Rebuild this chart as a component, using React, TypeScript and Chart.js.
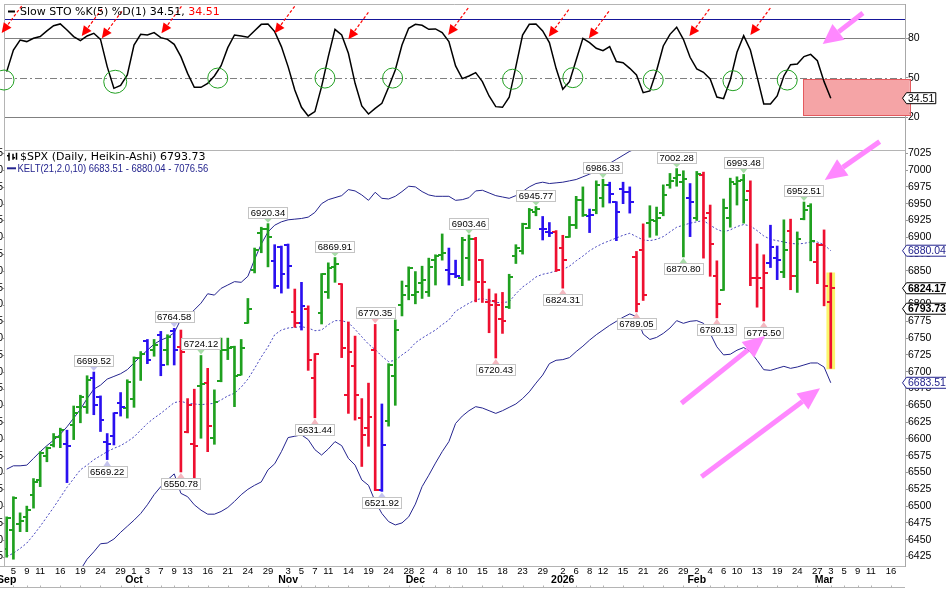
import React, { useEffect, useRef } from 'react';
import { Chart, registerables } from 'chart.js';

Chart.register(...registerables);

// ---------------- calendar ----------------
const HOLIDAYS = ['2025-11-27', '2025-12-25', '2026-01-01', '2026-01-19', '2026-02-16'];
const FIRST_SESSION = '2025-09-04';
const LAST_AXIS_SESSION = '2026-03-20';

// ---------------- $SPX daily Heikin-Ashi bars (2025-09-04 .. 2026-03-03) ----------------
const haOpen = [
  6436, 6464, 6474, 6484, 6517, 6539, 6574, 6591, 6603, 6593,
  6621, 6647, 6647, 6691, 6663, 6596, 6604, 6653, 6646, 6659,
  6720, 6745, 6732, 6755, 6732, 6760, 6737, 6611, 6592, 6678,
  6683, 6602, 6686, 6732, 6737, 6695, 6773, 6852, 6906, 6912,
  6865, 6886, 6889, 6789, 6772, 6793, 6691, 6787, 6819, 6856,
  6830, 6665, 6708, 6631, 6616, 6733, 6524, 6626, 6693, 6799,
  6828, 6814, 6832, 6819, 6866, 6874, 6852, 6846, 6839, 6869,
  6898, 6866, 6804, 6805, 6779, 6796, 6872, 6879, 6914, 6938,
  6913, 6908, 6908, 6884, 6901, 6918, 6956, 6931, 6941, 6958,
  6978, 6952, 6972, 6968, 6871, 6881, 6921, 6924, 6936, 6978,
  6988, 6983, 6958, 6928, 6992, 6936, 6842, 6821, 6928, 6980,
  6985, 6969, 6839, 6824, 6862, 6869, 6849, 6910, 6842, 6927,
  6947, 6863, 6889, 6803,
];
const haHigh = [
  6484, 6514, 6490, 6500, 6541, 6581, 6588, 6608, 6616, 6613,
  6649, 6665, 6694, 6699.52, 6664, 6608, 6639, 6669, 6688, 6722,
  6730, 6748, 6748, 6760, 6755, 6764.58, 6762, 6660, 6674, 6724.12,
  6705, 6673, 6750, 6750, 6738, 6748, 6809, 6884, 6915, 6920.34,
  6889, 6887, 6890, 6823, 6833, 6798, 6727, 6846, 6862, 6869.91,
  6831, 6774, 6753, 6660, 6683, 6770.35, 6652, 6712, 6777, 6835,
  6856, 6849, 6857, 6869, 6874, 6905, 6884, 6866, 6900, 6903.46,
  6900, 6867, 6823, 6816, 6818, 6845, 6889, 6921, 6943, 6945.77,
  6931, 6922, 6910, 6903, 6931, 6961, 6975, 6942, 6984, 6986.33,
  6982, 6953, 6982, 6975, 6879, 6920, 6947, 6945, 6978, 6995,
  7002.28, 6999, 6980, 6998, 6997, 6948, 6865, 6957, 6988, 6990,
  6993.48, 6984, 6890, 6874, 6918, 6887, 6926, 6927, 6908, 6952.51,
  6950, 6891, 6911, 6847,
];
const haLow = [
  6424, 6421, 6462, 6462, 6497, 6529, 6566, 6588, 6587, 6535,
  6599, 6624, 6638, 6636, 6611, 6569.22, 6591, 6634, 6631, 6647,
  6687, 6712, 6723, 6694, 6710, 6710, 6550.78, 6609, 6541, 6601,
  6581, 6592, 6685, 6718, 6648, 6695, 6772, 6847, 6877, 6856,
  6824, 6817, 6824, 6766, 6762, 6702, 6631.44, 6771, 6809, 6833,
  6721, 6638, 6628, 6559, 6589, 6523, 6521.92, 6619, 6650, 6783,
  6807, 6801, 6809, 6812, 6829, 6866, 6829, 6840, 6828, 6836,
  6804, 6803, 6758, 6720.43, 6757, 6794, 6861, 6875, 6913, 6932,
  6896, 6901, 6849, 6824.31, 6900, 6913, 6931, 6907, 6935, 6945,
  6951, 6895, 6950, 6936, 6789.05, 6806, 6900, 6903, 6932, 6973,
  6976, 6870.8, 6901, 6925, 6869, 6842, 6780.13, 6821, 6915, 6948,
  6921, 6828, 6796, 6775.5, 6855, 6837, 6840, 6822, 6818, 6926,
  6865, 6831, 6798, 6705,
];
const haClose = [
  6483, 6512, 6478, 6494, 6536, 6579, 6586, 6603, 6613, 6590,
  6638, 6662, 6688, 6650, 6628, 6592, 6638, 6648, 6685, 6720,
  6727, 6717, 6740, 6710, 6752, 6732, 6730, 6650, 6590, 6682,
  6619, 6655, 6732, 6735, 6694, 6735, 6793, 6881, 6912, 6900,
  6827, 6846, 6857, 6772, 6798, 6717, 6726, 6845, 6854, 6860,
  6736, 6730, 6665, 6606, 6633, 6524, 6591, 6710, 6762, 6814,
  6854, 6818, 6836, 6856, 6872, 6876, 6845, 6843, 6896, 6898,
  6833, 6833, 6800, 6800, 6775, 6841, 6884, 6920, 6940, 6942,
  6912, 6907, 6851, 6866, 6918, 6956, 6933, 6933, 6978, 6978,
  6965, 6938, 6968, 6953, 6801, 6814, 6925, 6928, 6963, 6984,
  6992, 6987, 6952, 6994, 6928, 6890, 6801, 6943, 6982, 6984,
  6955, 6839, 6840, 6847, 6886, 6866, 6881, 6842, 6898, 6941,
  6895, 6889, 6828, 6824.17,
];
// g = green, r = red, b = blue
const haColor = (
  'gggggggggb' + 'gggbbbbbgg' + 'gbgbgbrrrg' + 'rggggggggg' + 'bbbrbrrggg' +
  'rrrrrrbggg' + 'ggggggbbgg' + 'rrrrrggggg' + 'bbrrgggbgg' + 'bbbbrrgggg' +
  'ggbgrrrggg' + 'grrrbbgrgg' + 'grrr'
).split('');
const spxClose = 6793.73;

// ---------------- Keltner channel (21, 2.0, 10) ----------------
const keltUpper = [
  6555, 6560, 6560, 6561, 6571, 6581, 6590, 6598, 6607, 6618,
  6631, 6644, 6660, 6674, 6680, 6689, 6693, 6697, 6703, 6713,
  6723, 6732, 6741, 6747, 6751, 6758, 6778, 6782, 6792, 6802,
  6816, 6814, 6824, 6829, 6834, 6833, 6842, 6867, 6890, 6908,
  6918, 6923, 6926, 6927, 6928, 6930, 6937, 6950, 6956, 6959,
  6962, 6971, 6969, 6963, 6955, 6967, 6958, 6957, 6961, 6968,
  6976, 6975, 6968, 6963, 6961, 6961, 6961, 6955, 6956, 6959,
  6969, 6970, 6966, 6962, 6960, 6958, 6962, 6968, 6975, 6980,
  6982, 6980, 6981, 6982, 6984, 6986, 6990, 6994, 6998, 7005,
  7010, 7016, 7022, 7028, 7032, 7038, 7042, 7043, 7045, 7052,
  7054, 7064, 7067, 7071, 7078, 7080, 7087, 7092, 7095, 7100,
  7101, 7104, 7103, 7101, 7092, 7085, 7079, 7077, 7074, 7072,
  7074, 7073, 7071, 7076.56,
];
const keltMid = [
  6425, 6430, 6437, 6445, 6457, 6470, 6484, 6498, 6513, 6528,
  6541, 6554, 6561, 6569, 6575, 6581, 6586, 6590, 6596, 6603,
  6613, 6623, 6631, 6638, 6646, 6654, 6656, 6653, 6652, 6651,
  6652, 6653, 6658, 6664, 6668, 6677, 6689, 6705, 6722, 6737,
  6755, 6762, 6765, 6766, 6767, 6765, 6761, 6762, 6770, 6776,
  6776, 6773, 6763, 6752, 6741, 6733, 6723, 6715, 6717, 6725,
  6732, 6743, 6750, 6756, 6762, 6770, 6777, 6790, 6796, 6802,
  6807, 6809, 6806, 6803, 6803, 6804, 6816, 6826, 6833, 6841,
  6845, 6847, 6850, 6852, 6857, 6865, 6872, 6880, 6886, 6891,
  6895, 6899, 6903, 6906, 6901, 6896, 6895, 6897, 6901, 6908,
  6915, 6918, 6921, 6923, 6925, 6918, 6912, 6908, 6911, 6916,
  6919, 6917, 6910, 6902, 6897, 6895, 6893, 6891, 6890, 6891,
  6893, 6893, 6889, 6880.04,
];
const keltLower = [
  6250, 6262, 6275, 6288, 6300, 6312, 6325, 6338, 6352, 6366,
  6382, 6405, 6421, 6432, 6444, 6445, 6451, 6461, 6470, 6479,
  6489, 6502, 6517, 6529, 6539, 6548, 6519, 6514, 6502, 6494,
  6488, 6488, 6492, 6498, 6507, 6517, 6525, 6531, 6536, 6554,
  6563, 6581, 6602, 6604, 6606, 6599, 6584, 6576, 6585, 6596,
  6590, 6571, 6561, 6539, 6531, 6507, 6489, 6477, 6472, 6475,
  6484, 6503, 6529, 6546, 6564, 6581, 6596, 6623, 6634, 6642,
  6648, 6646, 6642, 6638, 6642, 6647, 6652, 6660, 6670, 6683,
  6695, 6712, 6717, 6718, 6721, 6730, 6738, 6747, 6755, 6762,
  6769, 6775, 6781, 6786, 6782, 6756, 6748, 6751, 6757, 6765,
  6776, 6772, 6775, 6776, 6772, 6757, 6737, 6725, 6726, 6732,
  6736, 6730, 6717, 6703, 6702, 6705, 6708, 6705, 6707, 6710,
  6713, 6713, 6707, 6683.51,
];

// ---------------- Slow Stochastic %K(5) %D(1) ----------------
const stoK = [
  54.7, 71.1, 78.7, 77.5, 80, 81.3, 85.6, 89.6, 90.9, 86.3,
  81.3, 78.2, 81.8, 83.8, 79.2, 58.5, 42, 44.3, 52.2, 74.9,
  83, 82.5, 84.3, 80.5, 79.2, 75.4, 66.1, 53.4, 42.8, 42.8,
  45.8, 51.4, 59.2, 72.9, 82.5, 81.8, 80.8, 85.8, 90.6, 90.9,
  85.1, 73.7, 58.5, 40.8, 27.6, 21, 24.3, 43.3, 66.1, 86.8,
  82.5, 68.6, 45.8, 28.6, 22.5, 26.8, 30.6, 42.8, 55.9, 74.9,
  87.6, 90.6, 89.9, 86.8, 87.1, 84.3, 77.5, 59, 49.4, 51.4,
  53.9, 47.1, 36.2, 28.1, 27.6, 35.2, 58.5, 82.5, 90.6, 90.9,
  85.6, 76.7, 57.2, 41.3, 47.1, 63.5, 80, 76.7, 72.4, 70.6,
  73.7, 62.3, 61.5, 57.2, 52.2, 38.7, 40, 55.4, 74.2, 83,
  88.4, 79.2, 65.6, 56.7, 54.2, 49.1, 35.4, 34.2, 48.4, 69.4,
  82, 71.1, 50.9, 30.1, 30.1, 36.2, 51.4, 60, 60.5, 66.1,
  67.8, 63, 47.1, 34.51,
];

// ---------------- axes ----------------
const priceTicks = [6425, 6450, 6475, 6500, 6525, 6550, 6575, 6600, 6625, 6650, 6675, 6700, 6725,
  6750, 6775, 6800, 6825, 6850, 6875, 6900, 6925, 6950, 6975, 7000, 7025];
const stoTicks = [20, 50, 80];
const stoBlueLevel = 95;
const dayTickDates = [
  '2025-09-05', '2025-09-09', '2025-09-11', '2025-09-16', '2025-09-19', '2025-09-24', '2025-09-29',
  '2025-10-01', '2025-10-03', '2025-10-07', '2025-10-09', '2025-10-13', '2025-10-16', '2025-10-21', '2025-10-24', '2025-10-29',
  '2025-11-03', '2025-11-05', '2025-11-07', '2025-11-11', '2025-11-14', '2025-11-19', '2025-11-24', '2025-11-28',
  '2025-12-02', '2025-12-04', '2025-12-08', '2025-12-10', '2025-12-15', '2025-12-18', '2025-12-23', '2025-12-29',
  '2026-01-02', '2026-01-06', '2026-01-08', '2026-01-12', '2026-01-15', '2026-01-21', '2026-01-26', '2026-01-29',
  '2026-02-02', '2026-02-04', '2026-02-06', '2026-02-10', '2026-02-13', '2026-02-19', '2026-02-24', '2026-02-27',
  '2026-03-03', '2026-03-05', '2026-03-09', '2026-03-11', '2026-03-16',
];
const monthTickDates = ['2025-09-04', '2025-10-01', '2025-11-03', '2025-12-01', '2026-01-02', '2026-02-02', '2026-03-02'];
const monthTickText = ['Sep', 'Oct', 'Nov', 'Dec', '2026', 'Feb', 'Mar'];
const X_MIN = -0.254;
const X_MAX = 134.08;

// ---------------- annotations ----------------
const hlIndex = [13, 15, 25, 26, 29, 39, 46, 49, 55, 56, 69, 73, 79, 83, 89, 94, 100, 101, 106, 110, 113, 119];
const hlValue = [6699.52, 6569.22, 6764.58, 6550.78, 6724.12, 6920.34, 6631.44, 6869.91, 6770.35, 6521.92, 6903.46,
  6720.43, 6945.77, 6824.31, 6986.33, 6789.05, 7002.28, 6870.8, 6780.13, 6993.48, 6775.5, 6952.51];
const hlBelow = [false, true, false, true, false, false, true, false, false, true, false,
  true, false, true, false, true, false, true, true, false, true, false];

const crossIndex = [-0.4, 16.2, 31.5, 47.5, 57.6, 75.5, 84.5, 96.5, 108.4, 116.5];
const crossValue = [48.3, 47, 49.8, 49.8, 49.8, 48.9, 50.1, 48.3, 47.8, 48.3];
const sellIndex = [-0.75, 11.2, 14.2, 23.1, 40, 51, 65.9, 80.9, 86.9, 101.9, 111];
const sellValue = [84, 81.7, 80, 83.8, 83.8, 79.2, 82.5, 81.2, 80, 81.7, 82.5];
const zoneIndex = [118.9, 134.8];
const zoneValue = [48.9, 21.2];
const stoArrowFrom = [127.8, 99.2];
const stoArrowTo = [121.8, 75.6];
const priceArrowFrom = [[130.3, 7042.3], [100.7, 6653], [103.7, 6543.8]];
const priceArrowTo = [[122.1, 6985.3], [113.2, 6753], [121.4, 6675.3]];
const highlightIndex = 123;
const highlightRange = [6704, 6847];

// ---------------- styles ----------------
const GREEN = '#1FA01F';
const RED = '#EE1030';
const BLUE = '#2A10F0';
const BAR_COLORS: Record<string, string> = { g: GREEN, r: RED, b: BLUE };
const NOTCH_COLORS: Record<string, string> = { g: '#A8DCA8', r: '#F4B8C0', b: '#C4C4EE' };
const NAVY = '#24248E';
const FRAME = '#B4B4B4';
const PINK = '#FF88FF';
const AXIS_FONT = "'Liberation Sans', Arial, sans-serif";
const UI_FONT = "'DejaVu Sans', Verdana, sans-serif";

function tradingSessions(first: string, last: string, closed: string[]): string[] {
  const out: string[] = [];
  const d = new Date(first + 'T12:00:00Z');
  const end = new Date(last + 'T12:00:00Z');
  while (d.getTime() <= end.getTime()) {
    const wd = d.getUTCDay();
    const iso = d.toISOString().slice(0, 10);
    if (wd !== 0 && wd !== 6 && closed.indexOf(iso) < 0) out.push(iso);
    d.setUTCDate(d.getUTCDate() + 1);
  }
  return out;
}

function arrow(ctx: CanvasRenderingContext2D, x1: number, y1: number, x2: number, y2: number,
  color: string, width: number, headLen: number, headHalf: number, dash: number[]) {
  const ang = Math.atan2(y2 - y1, x2 - x1);
  const bx = x2 - headLen * Math.cos(ang);
  const by = y2 - headLen * Math.sin(ang);
  ctx.save();
  ctx.strokeStyle = color;
  ctx.lineWidth = width;
  ctx.setLineDash(dash);
  ctx.beginPath();
  ctx.moveTo(x1, y1);
  ctx.lineTo(bx, by);
  ctx.stroke();
  ctx.setLineDash([]);
  ctx.fillStyle = color;
  ctx.beginPath();
  ctx.moveTo(x2, y2);
  ctx.lineTo(bx + headHalf * Math.sin(ang), by - headHalf * Math.cos(ang));
  ctx.lineTo(bx - headHalf * Math.sin(ang), by + headHalf * Math.cos(ang));
  ctx.closePath();
  ctx.fill();
  ctx.restore();
}

function tag(ctx: CanvasRenderingContext2D, axisLeft: number, py: number, text: string, color: string,
  bold: boolean, boxed: boolean) {
  ctx.save();
  ctx.font = `${bold ? 'bold ' : ''}10.5px ${AXIS_FONT}`;
  const w = ctx.measureText(text).width;
  const h = 11;
  const tip = axisLeft - 2.5;
  const xb = axisLeft + 1.5;
  const xr = boxed ? xb + w + 3 : 946.5;
  ctx.beginPath();
  ctx.moveTo(tip, py);
  ctx.lineTo(xb, py - h / 2);
  ctx.lineTo(xr, py - h / 2);
  ctx.lineTo(xr, py + h / 2);
  ctx.lineTo(xb, py + h / 2);
  ctx.closePath();
  ctx.fillStyle = '#fff';
  ctx.fill();
  ctx.strokeStyle = color;
  ctx.lineWidth = 1;
  ctx.stroke();
  ctx.fillStyle = color;
  ctx.textAlign = 'left';
  ctx.textBaseline = 'middle';
  ctx.fillText(text, xb + 1.5, py + 0.5);
  ctx.restore();
}

export default function App() {
  const topRef = useRef<HTMLCanvasElement>(null);
  const mainRef = useRef<HTMLCanvasElement>(null);

  useEffect(() => {
    document.body.style.margin = '0';
    const sessions = tradingSessions(FIRST_SESSION, LAST_AXIS_SESSION, HOLIDAYS);
    const dayIdx = dayTickDates.map((s) => sessions.indexOf(s));
    const dayText = new Map<number, string>();
    dayTickDates.forEach((s, k) => dayText.set(dayIdx[k], String(Number(s.slice(8)))));
    const monthIdx = monthTickDates.map((s) => sessions.indexOf(s));
    const monthText = new Map<number, string>();
    monthIdx.forEach((v, k) => monthText.set(v, monthTickText[k]));
    const idx = haHigh.map((_, i) => i);

    const makeTick = (color: string, left: boolean) => {
      const c = document.createElement('canvas');
      c.width = 8;
      c.height = 2;
      const g = c.getContext('2d')!;
      g.fillStyle = color;
      g.fillRect(left ? 0 : 4, 0, 4, 2);
      return c;
    };
    const tickL: Record<string, HTMLCanvasElement> = {};
    const tickR: Record<string, HTMLCanvasElement> = {};
    Object.keys(BAR_COLORS).forEach((k) => {
      tickL[k] = makeTick(BAR_COLORS[k], true);
      tickR[k] = makeTick(BAR_COLORS[k], false);
    });

    // ---------------- stochastic panel ----------------
    const stoOverlay = {
      id: 'stoOverlay',
      beforeDatasetsDraw(chart: any) {
        const { ctx, chartArea: a } = chart;
        const xs = chart.scales.x;
        const ys = chart.scales.y;
        ctx.save();
        const zx0 = xs.getPixelForValue(zoneIndex[0]);
        const zx1 = xs.getPixelForValue(zoneIndex[1]);
        const zy0 = ys.getPixelForValue(zoneValue[0]);
        const zy1 = ys.getPixelForValue(zoneValue[1]);
        ctx.fillStyle = '#F5A4A6';
        ctx.fillRect(zx0, zy0, zx1 - zx0, zy1 - zy0);
        ctx.strokeStyle = '#E45A5E';
        ctx.lineWidth = 1;
        ctx.strokeRect(Math.round(zx0) + 0.5, Math.round(zy0) + 0.5, Math.round(zx1 - zx0), Math.round(zy1 - zy0));
        const hline = (v: number, color: string, dash: number[]) => {
          const py = Math.round(ys.getPixelForValue(v)) + 0.5;
          ctx.strokeStyle = color;
          ctx.setLineDash(dash);
          ctx.beginPath();
          ctx.moveTo(a.left, py);
          ctx.lineTo(a.right, py);
          ctx.stroke();
        };
        hline(stoTicks[0], '#808080', []);
        hline(stoTicks[2], '#808080', []);
        hline(stoTicks[1], '#808080', [7, 3, 2, 3]);
        hline(stoBlueLevel, '#16169A', []);
        ctx.setLineDash([]);
        ctx.strokeStyle = FRAME;
        ctx.beginPath();
        ctx.moveTo(a.left - 0.5, a.top + 0.5);
        ctx.lineTo(a.right, a.top + 0.5);
        ctx.moveTo(a.left - 0.5, a.top);
        ctx.lineTo(a.left - 0.5, a.bottom);
        ctx.stroke();
        ctx.restore();
      },
      afterDraw(chart: any) {
        const { ctx } = chart;
        const xs = chart.scales.x;
        const ys = chart.scales.y;
        // red dashed sell arrows
        sellIndex.forEach((si, k) => {
          const tx = xs.getPixelForValue(si);
          const ty = ys.getPixelForValue(sellValue[k]);
          arrow(ctx, tx + 20, ty - 27, tx, ty, '#FF0000', 1.2, 10, 4.8, [3, 2]);
        });
        // pink arrow
        arrow(ctx, xs.getPixelForValue(stoArrowFrom[0]), ys.getPixelForValue(stoArrowFrom[1]),
          xs.getPixelForValue(stoArrowTo[0]), ys.getPixelForValue(stoArrowTo[1]), PINK, 5, 20, 10, []);
        // legend
        ctx.save();
        ctx.strokeStyle = '#000';
        ctx.lineWidth = 2;
        ctx.beginPath();
        ctx.moveTo(8, 11.5);
        ctx.lineTo(15, 11.5);
        ctx.stroke();
        ctx.font = `11px ${UI_FONT}`;
        ctx.textAlign = 'left';
        ctx.textBaseline = 'middle';
        const last = stoK[stoK.length - 1].toFixed(2);
        const t1 = `Slow STO %K(5) %D(1) ${last}, `;
        ctx.fillStyle = '#000';
        ctx.fillText(t1, 20, 12);
        ctx.fillStyle = '#FF0000';
        ctx.fillText(last, 20 + ctx.measureText(t1).width, 12);
        ctx.restore();
        tag(ctx, ys.left, ys.getPixelForValue(stoK[stoK.length - 1]), last, '#000', false, true);
      },
    };

    const stoChart = new Chart(topRef.current!, {
      type: 'line',
      data: {
        datasets: [
          {
            type: 'scatter',
            data: crossIndex.map((v, k) => ({ x: v, y: crossValue[k] })),
            pointStyle: 'circle',
            pointRadius: (c: any) => (c.dataIndex === 1 ? 11.5 : 10),
            borderColor: '#22A022',
            backgroundColor: 'rgba(0,0,0,0)',
            borderWidth: 1,
            clip: false,
            order: 0,
          } as any,
          {
            type: 'line',
            data: idx.map((i) => ({ x: i, y: stoK[i] })),
            borderColor: '#000',
            borderWidth: 1.5,
            pointRadius: 0,
            tension: 0,
            order: 1,
          } as any,
        ],
      },
      options: {
        responsive: false,
        animation: false,
        events: [],
        layout: { autoPadding: false, padding: { left: 5, top: 4, right: 0, bottom: 0 } },
        plugins: { legend: { display: false }, tooltip: { enabled: false } },
        scales: {
          x: { type: 'linear', min: X_MIN, max: X_MAX, display: false, offset: false },
          y: {
            type: 'linear',
            position: 'right',
            min: -4.83,
            max: 106.05,
            afterBuildTicks: (s: any) => { s.ticks = stoTicks.map((v) => ({ value: v })); },
            afterFit: (s: any) => { s.width = 41; s.paddingTop = 0; s.paddingBottom = 0; },
            ticks: { font: { family: AXIS_FONT, size: 10.5 }, color: '#000', padding: 0, callback: (v: any) => String(v) },
            grid: { display: true, drawOnChartArea: false, drawTicks: true, tickLength: 3, color: '#999' },
            border: { display: true, color: '#A8A8A8' },
          },
        },
      } as any,
      plugins: [stoOverlay],
    });

    // ---------------- price panel ----------------
    const mainOverlay = {
      id: 'mainOverlay',
      afterDraw(chart: any) {
        const { ctx, chartArea: a } = chart;
        const xs = chart.scales.x;
        const ys = chart.scales.y;
        ctx.save();
        // frame
        ctx.strokeStyle = FRAME;
        ctx.lineWidth = 1;
        ctx.beginPath();
        ctx.moveTo(a.left - 0.5, a.top + 0.5);
        ctx.lineTo(a.right, a.top + 0.5);
        ctx.moveTo(a.left - 0.5, 0);
        ctx.lineTo(a.left - 0.5, a.bottom);
        ctx.moveTo(0, a.bottom + 0.5);
        ctx.lineTo(a.right, a.bottom + 0.5);
        ctx.moveTo(0, chart.height - 1.5);
        ctx.lineTo(a.right, chart.height - 1.5);
        ctx.stroke();
        ctx.beginPath();
        dayIdx.forEach((d) => {
          const px = Math.round(xs.getPixelForValue(d)) + 0.5;
          ctx.moveTo(px, chart.height - 1.5);
          ctx.lineTo(px, chart.height - 3.5);
        });
        ctx.stroke();

        // cut-off left price scale (only its last glyphs remain visible)
        ctx.font = `10.5px ${AXIS_FONT}`;
        ctx.textAlign = 'right';
        ctx.textBaseline = 'middle';
        ctx.fillStyle = '#000';
        ctx.strokeStyle = '#999';
        ctx.beginPath();
        priceTicks.forEach((v) => {
          const py = ys.getPixelForValue(v);
          ctx.fillText(String(v), 3, py);
          ctx.moveTo(3, Math.round(py) + 0.5);
          ctx.lineTo(4.5, Math.round(py) + 0.5);
        });
        ctx.stroke();

        // high / low labels
        ctx.font = `9.5px ${AXIS_FONT}`;
        ctx.textAlign = 'center';
        ctx.textBaseline = 'middle';
        hlIndex.forEach((bi, k) => {
          const px = xs.getPixelForValue(bi);
          const py = ys.getPixelForValue(hlValue[k]);
          const text = hlValue[k].toFixed(2);
          const w = Math.round(ctx.measureText(text).width + 5);
          const h = 11;
          const below = hlBelow[k];
          const by = below ? Math.round(py + 6) + 0.5 : Math.round(py - 6 - h) + 0.5;
          const edge = below ? by : by + h;
          ctx.fillStyle = NOTCH_COLORS[haColor[bi]];
          ctx.beginPath();
          ctx.moveTo(px - 4, edge);
          ctx.lineTo(px + 4, edge);
          ctx.lineTo(px, below ? py + 1 : py - 1);
          ctx.closePath();
          ctx.fill();
          const bx = Math.round(px - w / 2) + 0.5;
          ctx.fillStyle = '#fff';
          ctx.fillRect(bx, by, w, h);
          ctx.strokeStyle = '#C4C4C4';
          ctx.strokeRect(bx, by, w, h);
          ctx.fillStyle = '#000';
          ctx.fillText(text, px, by + h / 2 + 0.5);
        });

        // pink arrows
        priceArrowFrom.forEach((f, k) => {
          const t = priceArrowTo[k];
          arrow(ctx, xs.getPixelForValue(f[0]), ys.getPixelForValue(f[1]),
            xs.getPixelForValue(t[0]), ys.getPixelForValue(t[1]), PINK, 5, 22, 10, []);
        });

        // legend
        const ly1 = a.top + 6.7;
        const ly2 = a.top + 18.3;
        ctx.strokeStyle = '#000';
        ctx.lineWidth = 1.5;
        ctx.beginPath();
        ctx.moveTo(9, ly1 - 4); ctx.lineTo(9, ly1 + 4);
        ctx.moveTo(7, ly1 - 1); ctx.lineTo(9, ly1 - 1);
        ctx.moveTo(13, ly1 - 3); ctx.lineTo(13, ly1 + 3);
        ctx.moveTo(13, ly1 + 1); ctx.lineTo(15, ly1 + 1);
        ctx.moveTo(16.5, ly1 - 4); ctx.lineTo(16.5, ly1 + 3);
        ctx.stroke();
        ctx.font = `11px ${UI_FONT}`;
        ctx.textAlign = 'left';
        ctx.textBaseline = 'middle';
        ctx.fillStyle = '#000';
        ctx.fillText(`$SPX (Daily, Heikin-Ashi) ${spxClose.toFixed(2)}`, 20, ly1 + 0.5);
        ctx.strokeStyle = NAVY;
        ctx.lineWidth = 2;
        ctx.beginPath();
        ctx.moveTo(7, ly2);
        ctx.lineTo(16, ly2);
        ctx.stroke();
        const n = keltMid.length - 1;
        ctx.font = `11px ${AXIS_FONT}`;
        ctx.fillStyle = NAVY;
        ctx.save();
        ctx.translate(17.5, ly2 + 0.5);
        ctx.scale(0.86, 1);
        ctx.fillText(`KELT(21,2.0,10) ${keltLower[n].toFixed(2)} - ${keltMid[n].toFixed(2)} - ${keltUpper[n].toFixed(2)}`, 0, 0);
        ctx.restore();
        ctx.restore();

        // right-axis value tags
        tag(ctx, ys.left, ys.getPixelForValue(keltMid[n]), keltMid[n].toFixed(2), NAVY, false, false);
        tag(ctx, ys.left, ys.getPixelForValue(keltLower[n]), keltLower[n].toFixed(2), NAVY, false, false);
        tag(ctx, ys.left, ys.getPixelForValue(haClose[n]), haClose[n].toFixed(2), '#000', true, false);
        tag(ctx, ys.left, ys.getPixelForValue(spxClose), spxClose.toFixed(2), '#000', true, false);
      },
    };

    const mainChart = new Chart(mainRef.current!, {
      type: 'bar',
      data: {
        datasets: [
          {
            type: 'scatter',
            data: idx.map((i) => ({ x: i, y: haClose[i] })),
            pointStyle: (c: any) => tickR[haColor[c.dataIndex]],
            pointRadius: 2,
            order: 0,
          } as any,
          {
            type: 'scatter',
            data: idx.map((i) => ({ x: i, y: haOpen[i] })),
            pointStyle: (c: any) => tickL[haColor[c.dataIndex]],
            pointRadius: 2,
            order: 0,
          } as any,
          {
            type: 'bar',
            data: idx.map((i) => ({ x: i, y: [haLow[i], haHigh[i]] })),
            backgroundColor: idx.map((i) => BAR_COLORS[haColor[i]]),
            borderWidth: 0,
            barThickness: 2,
            grouped: false,
            order: 1,
          } as any,
          {
            type: 'bar',
            data: [{ x: highlightIndex, y: highlightRange }],
            backgroundColor: '#FAF66C',
            borderWidth: 0,
            barThickness: 8,
            grouped: false,
            order: 2,
          } as any,
          {
            type: 'line',
            data: idx.map((i) => ({ x: i, y: keltMid[i] })),
            borderColor: '#4646BE',
            borderWidth: 1,
            borderDash: [2, 2],
            pointRadius: 0,
            tension: 0,
            order: 3,
          } as any,
          {
            type: 'line',
            data: idx.map((i) => ({ x: i, y: keltUpper[i] })),
            borderColor: NAVY,
            borderWidth: 1,
            pointRadius: 0,
            tension: 0,
            order: 3,
          } as any,
          {
            type: 'line',
            data: idx.map((i) => ({ x: i, y: keltLower[i] })),
            borderColor: NAVY,
            borderWidth: 1,
            pointRadius: 0,
            tension: 0,
            order: 3,
          } as any,
        ],
      },
      options: {
        responsive: false,
        animation: false,
        events: [],
        layout: { autoPadding: false, padding: { left: 5, top: 30, right: 0, bottom: 0 } },
        plugins: { legend: { display: false }, tooltip: { enabled: false } },
        scales: {
          x: {
            type: 'linear',
            position: 'bottom',
            min: X_MIN,
            max: X_MAX,
            offset: false,
            weight: 0,
            afterBuildTicks: (s: any) => { s.ticks = dayIdx.map((v) => ({ value: v })); },
            afterFit: (s: any) => { s.height = 8; s.paddingLeft = 0; s.paddingRight = 0; },
            ticks: {
              autoSkip: false, maxRotation: 0, minRotation: 0, padding: 0,
              font: { family: AXIS_FONT, size: 9.5 }, color: '#000',
              callback: (v: any) => dayText.get(Number(v)) ?? '',
            },
            grid: { display: false, drawTicks: false, offset: false },
            border: { display: false },
          },
          x2: {
            type: 'linear',
            position: 'bottom',
            axis: 'x',
            min: X_MIN,
            max: X_MAX,
            offset: false,
            weight: 1,
            afterBuildTicks: (s: any) => { s.ticks = monthIdx.map((v) => ({ value: v })); },
            afterFit: (s: any) => { s.height = 15; s.paddingLeft = 0; s.paddingRight = 0; },
            ticks: {
              autoSkip: false, maxRotation: 0, minRotation: 0, padding: 0,
              font: { family: AXIS_FONT, size: 10.5, weight: 'bold' }, color: '#000',
              callback: (v: any) => monthText.get(Number(v)) ?? '',
            },
            grid: { display: false, drawTicks: false, offset: false },
            border: { display: false },
          },
          y: {
            type: 'linear',
            position: 'right',
            min: 6410.9,
            max: 7029.9,
            afterBuildTicks: (s: any) => { s.ticks = priceTicks.map((v) => ({ value: v })); },
            afterFit: (s: any) => { s.width = 41; s.paddingTop = 0; s.paddingBottom = 0; },
            ticks: { font: { family: AXIS_FONT, size: 10.5 }, color: '#000', padding: 0, autoSkip: false, callback: (v: any) => String(v) },
            grid: { display: true, drawOnChartArea: false, drawTicks: true, tickLength: 3, color: '#999' },
            border: { display: true, color: '#A8A8A8' },
          },
        },
      } as any,
      plugins: [mainOverlay],
    });

    return () => {
      stoChart.destroy();
      mainChart.destroy();
    };
  }, []);

  return (
    <div style={{ position: 'absolute', left: 0, top: 0, width: 946, height: 589, background: '#fff', overflow: 'hidden' }}>
      <canvas ref={topRef} width={946} height={150} style={{ position: 'absolute', left: 0, top: 0 }} />
      <canvas ref={mainRef} width={946} height={469} style={{ position: 'absolute', left: 0, top: 120 }} />
    </div>
  );
}
